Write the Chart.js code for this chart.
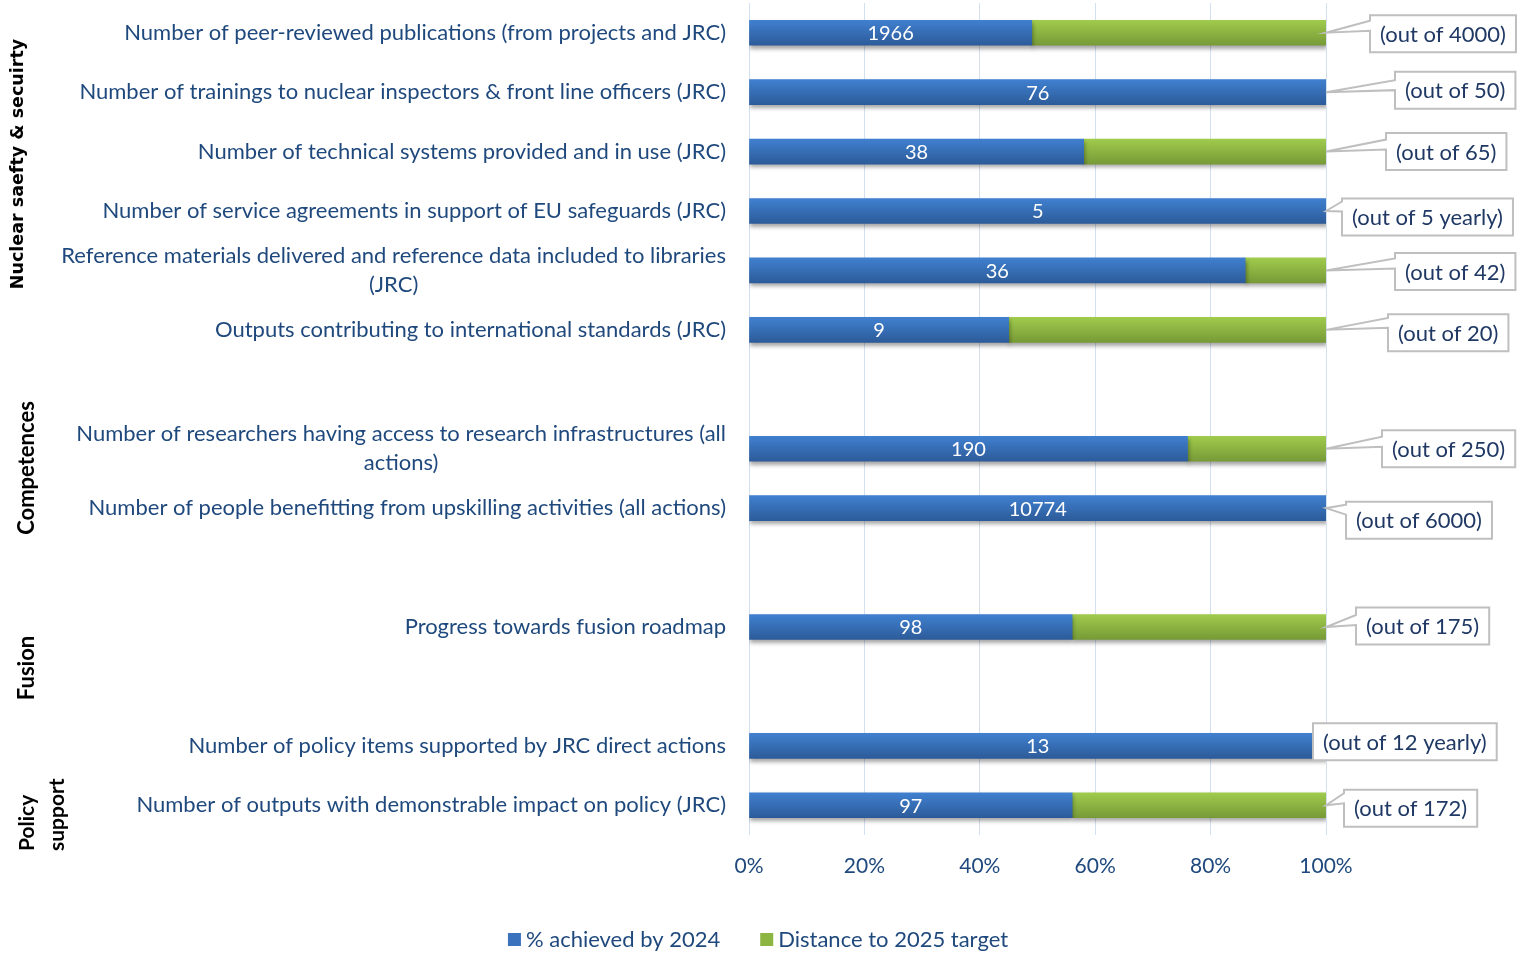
<!DOCTYPE html>
<html>
<head>
<meta charset="utf-8">
<script src="https://cdn.jsdelivr.net/npm/chart.js@4/dist/chart.umd.min.js"></script>
<style>
  body { margin: 0; background: #ffffff; }
  #wrap { width: 1523px; height: 953px; }
</style>
</head>
<body>
<div id="wrap"><canvas id="chart" width="1523" height="953"></canvas></div>
<script>
// ---------- data ----------
const categories = [
    ["Number of peer-reviewed publications (from projects and JRC)"],
    ["Number of trainings to nuclear inspectors & front line officers (JRC)"],
    ["Number of technical systems provided and in use (JRC)"],
    ["Number of service agreements in support of EU safeguards (JRC)"],
    ["Reference materials delivered and reference data included to libraries", "(JRC)"],
    ["Outputs contributing to international standards (JRC)"],
    [""],
    ["Number of researchers having access to research infrastructures (all", "actions)"],
    ["Number of people benefitting from upskilling activities (all actions)"],
    [""],
    ["Progress towards fusion roadmap"],
    [""],
    ["Number of policy items supported by JRC direct actions"],
    ["Number of outputs with demonstrable impact on policy (JRC)"]
];
const achievedPct  = [49, 100, 58, 100, 86, 45, null, 76, 100, null, 56, null, 100, 56];
const remainingPct = [51, 0, 42, 0, 14, 55, null, 24, 0, null, 44, null, 0, 44];
const achievedValues = ["1966", "76", "38", "5", "36", "9", "", "190", "10774", "", "98", "", "13", "97"];
const targetLabels = [
    "(out of 4000)", "(out of 50)", "(out of 65)", "(out of 5 yearly)", "(out of 42)",
    "(out of 20)", "", "(out of 250)", "(out of 6000)", "", "(out of 175)", "",
    "(out of 12 yearly)", "(out of 172)"
];
const seriesNames = ["% achieved by 2024", "Distance to 2025 target"];

// callout box placement: [left edge offset from 100% line, vertical offset from bar centre]
const calloutOffsets = [
    [44, 1], [69, -2], [60, 0], [16, 6], [69, 1], [62, 3], null,
    [56, 0], [20, 12], null, [30, -1], null, [-13, -4], [18, 3]
];

const BLUE = "#3A72BE";
const GREEN = "#8DB542";
const TEXT = "#1F497D";
const FONT = "Lato";

function barFill(top, bottom, solid) {
    return (c) => {
        if (c.type !== "data" || !c.chart.chartArea) return solid;
        const y = c.chart.scales.y.getPixelForValue(c.dataIndex);
        const g = c.chart.ctx.createLinearGradient(0, y - 12.5, 0, y + 12.5);
        g.addColorStop(0, top);
        g.addColorStop(1, bottom);
        return g;
    };
}

// ================= extra drawing (labels, callouts, groups, legend) =================
const decorations = {
    id: "decorations",
    beforeDatasetsDraw(chart) {
        const ctx = chart.ctx;
        ctx.save();
        ctx.shadowColor = "rgba(0,0,0,0.35)";
        ctx.shadowBlur = 4;
        ctx.shadowOffsetX = 1;
        ctx.shadowOffsetY = 3;
    },
    afterDatasetsDraw(chart) {
        const ctx = chart.ctx;
        ctx.restore();
        const y = chart.scales.y;
        const x = chart.scales.x;
        const meta = chart.getDatasetMeta(0);

        // values inside blue bars
        ctx.save();
        ctx.font = "20px " + FONT;
        ctx.fillStyle = "#ffffff";
        ctx.textAlign = "center";
        ctx.textBaseline = "middle";
        meta.data.forEach((bar, i) => {
            if (!achievedValues[i]) return;
            ctx.fillText(achievedValues[i], (bar.x + bar.base) / 2, bar.y + 1);
        });
        ctx.restore();

        // category labels
        ctx.save();
        ctx.font = "22px " + FONT;
        ctx.fillStyle = TEXT;
        ctx.textAlign = "center";
        ctx.textBaseline = "middle";
        categories.forEach((lines, i) => {
            if (!lines[0]) return;
            const cy = y.getPixelForValue(i);
            const w = Math.max(...lines.map(l => ctx.measureText(l).width));
            const cx = 726 - w / 2;
            const lh = 29;
            lines.forEach((l, k) => {
                ctx.fillText(l, cx, cy + (k - (lines.length - 1) / 2) * lh);
            });
        });
        ctx.restore();

        // callouts
        ctx.save();
        ctx.font = "22px " + FONT;
        ctx.textBaseline = "middle";
        ctx.textAlign = "left";
        const ax = x.getPixelForValue(100);
        targetLabels.forEach((t, i) => {
            if (!t) return;
            const off = calloutOffsets[i];
            const ay = y.getPixelForValue(i);
            const w = ctx.measureText(t).width + 20;
            const h = 37;
            const left = ax + off[0];
            const cy = ay + off[1];
            const top = cy - h / 2, bottom = cy + h / 2, right = left + w;
            ctx.beginPath();
            ctx.moveTo(left, top);
            ctx.lineTo(right, top);
            ctx.lineTo(right, bottom);
            ctx.lineTo(left, bottom);
            if (left > ax + 2) {
                const w1 = Math.min(Math.max(ay - 12, top + 3), bottom - 14);
                ctx.lineTo(left, w1 + 10);
                ctx.lineTo(ax, ay);
                ctx.lineTo(left, w1);
            }
            ctx.closePath();
            ctx.fillStyle = "#ffffff";
            ctx.fill();
            ctx.strokeStyle = "#BFBFBF";
            ctx.lineWidth = 2;
            ctx.stroke();
            ctx.fillStyle = "#1F3864";
            ctx.fillText(t, left + 10, cy + 1);
        });
        ctx.restore();

        // group labels (rotated)
        ctx.save();
        ctx.fillStyle = "#000000";
        ctx.textBaseline = "middle";
        const groupText = (txt, gx, gy, font, align) => {
            ctx.save();
            ctx.translate(gx, gy);
            ctx.rotate(-Math.PI / 2);
            ctx.font = font;
            ctx.textAlign = align;
            ctx.fillText(txt, 0, 0);
            ctx.restore();
        };
        groupText("Nuclear saefty & secuirty", 18, 164, "bold 17.5px 'DejaVu Sans'", "center");
        groupText("Competences", 27, 468, "bold 22px " + FONT, "center");
        groupText("Fusion", 27, 668, "bold 22px " + FONT, "center");
        groupText("Policy", 27, 851, "bold 21px " + FONT, "left");
        groupText("support", 57, 851, "bold 21px " + FONT, "left");
        ctx.restore();

        // legend
        ctx.save();
        ctx.font = "22px " + FONT;
        ctx.textBaseline = "middle";
        ctx.textAlign = "left";
        const colors = [BLUE, GREEN];
        const widths = seriesNames.map(s => 13 + 5 + ctx.measureText(s).width);
        const total = widths[0] + 40 + widths[1];
        let lx = 758 - total / 2;
        seriesNames.forEach((s, k) => {
            ctx.fillStyle = colors[k];
            ctx.fillRect(lx, 933, 13, 13);
            ctx.fillStyle = TEXT;
            ctx.fillText(s, lx + 18, 940);
            lx += widths[k] + 40;
        });
        ctx.restore();
    }
};

new Chart(document.getElementById("chart"), {
    type: "bar",
    data: {
        labels: categories.map(c => c.join(" ")),
        datasets: [{
            label: seriesNames[0],
            data: achievedPct,
            backgroundColor: barFill("#4080D0", "#2C5B99", BLUE),
            barThickness: 25
        }, {
            label: seriesNames[1],
            data: remainingPct,
            backgroundColor: barFill("#A0CB4C", "#779A37", GREEN),
            barThickness: 25
        }]
    },
    options: {
        indexAxis: "y",
        responsive: false,
        animation: false,
        layout: { padding: { left: 749, right: 197, top: 3, bottom: 0 } },
        plugins: {
            legend: { display: false },
            tooltip: { enabled: false }
        },
        scales: {
            y: {
                stacked: true,
                display: false
            },
            x: {
                stacked: true,
                min: 0,
                max: 100,
                ticks: {
                    stepSize: 20,
                    callback: v => v + "%",
                    color: TEXT,
                    font: { family: FONT, size: 21 },
                    padding: 19
                },
                grid: { color: "#D3E0F0", drawTicks: false },
                border: { display: false },
                afterFit: s => { s.height = 118; }
            }
        }
    },
    plugins: [decorations]
});
</script>
</body>
</html>
